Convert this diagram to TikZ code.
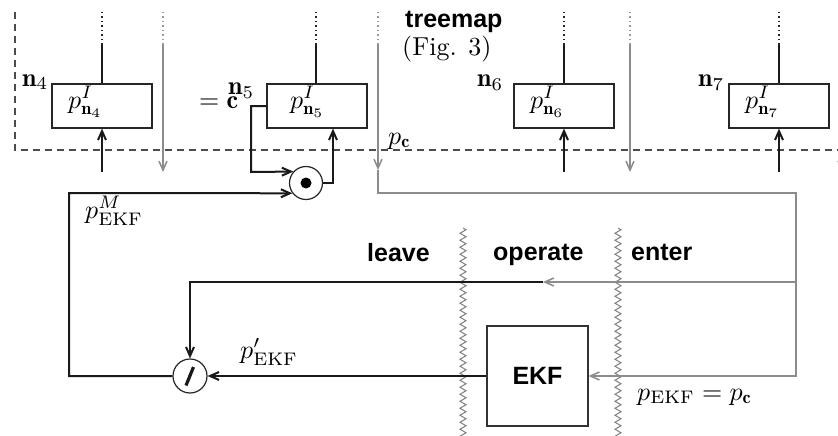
\documentclass[tikz,border=0pt]{standalone}
\usepackage{graphicx}
\usepackage{fontspec}
\newfontfamily\hel{Liberation Sans}
\newcommand\Lb[1]{\scalebox{2.6}{#1}}
\usetikzlibrary{arrows.meta,decorations.pathmorphing}
\begin{document}
\begin{tikzpicture}[x=1pt,y=-1pt,
  lbl/.style={inner sep=0pt},
  sf/.style={font=\hel\bfseries\fontsize{25}{28}\selectfont, inner sep=0pt},
  pbox/.style={draw=black!85, line width=1.2pt, minimum width=100pt, minimum height=44pt, inner sep=0pt},
  blk/.style={draw=black!90, line width=2pt},
  gry/.style={draw=black!45, line width=1.5pt},
  tip/.style={-{Straight Barb[length=9pt,width=8pt]}},
  dots/.style={line width=2pt, dash pattern=on 1.2pt off 3.3pt},
  frame/.style={draw=black!70, line width=1.2pt, dash pattern=on 7pt off 5pt},
  zz/.style={draw=black!50, line width=1pt, decorate, decoration={zigzag,segment length=7pt,amplitude=3pt}},
  ring/.style={circle, draw=black!85, line width=1.2pt, inner sep=0pt, fill=white},
]
\useasboundingbox (0,0) rectangle (838,436);
\clip (0,0) rectangle (838,436);

% dashed treemap frame
\coordinate (f1) at (15,12);
\coordinate (f2) at (15,150);
\coordinate (f3) at (845,150);
\draw[frame] (f1) -- (f2) -- (f3);

% zigzag phase borders
\coordinate (z1a) at (463,228); \coordinate (z1b) at (463,440);
\coordinate (z2a) at (618,228); \coordinate (z2b) at (618,440);
\draw[zz] (z1a) -- (z1b);
\draw[zz] (z2a) -- (z2b);

% boxes
\node[pbox] (b4) at (102,106) {};
\node[pbox] (b5) at (317,106) {};
\node[pbox] (b6) at (564,106) {};
\node[pbox] (b7) at (779,106) {};
\node[lbl, anchor=base west] (l4) at (68,108) {\Lb{$p^I_{\mathbf{n}_4}$}};
\node[lbl, anchor=base west] (l5) at (290,108) {\Lb{$p^I_{\mathbf{n}_5}$}};
\node[lbl, anchor=base west] (l6) at (530,108) {\Lb{$p^I_{\mathbf{n}_6}$}};
\node[lbl, anchor=base west] (l7) at (745,108) {\Lb{$p^I_{\mathbf{n}_7}$}};

% lines above boxes
\foreach \i/\x in {4/102,5/316,6/564,7/779}{
  \coordinate (t\i) at (\x,12);
  \coordinate (m\i) at (\x,45);
  \draw[dots, black!85] (t\i) -- (m\i);
  \draw[blk] (m\i) -- (m\i |- b\i.north);
}
% arrows into boxes from below
\foreach \i/\x in {4/102,6/564,7/779}{
  \coordinate (u\i) at (\x,172);
  \draw[blk,tip] (u\i) -- (u\i |- b\i.south);
}

% grey downward arrows
\foreach \i/\x in {a/163,b/630,c/842}{
  \coordinate (gt\i) at (\x,12);
  \coordinate (gm\i) at (\x,45);
  \coordinate (gb\i) at (\x,172);
  \draw[dots, black!40] (gt\i) -- (gm\i);
  \draw[gry,tip] (gm\i) -- (gb\i);
}

% circles
\node[ring, minimum size=33pt] (cd) at (306,183) {};
\fill[black] (cd.center) circle (5.5);
\node[ring, minimum size=34pt] (sl) at (190,376) {};
\draw[line width=3.2pt, black!90] (186,385.5) -- (193.5,367);

% EKF box
\node[draw=black!80, line width=1.2pt, minimum width=101pt, minimum height=100pt, sf] (ekf) at (537.5,376) {EKF};

% n5 loop
\coordinate (k1) at (251,106);
\coordinate (k2) at (251,172);
\draw[blk,tip] (b5.west) -- (k1) -- (k2) -- (cd.138);
\coordinate (k5) at (333,183);
\draw[blk,tip] (cd.east) -- (k5) -- (k5 |- b5.south);

% big left loop
\coordinate (lc1) at (69,376);
\coordinate (lc2) at (69,193);
\draw[blk,tip] (sl.west) -- (lc1) -- (lc2) -- (cd.217);

% grey path from p_c
\coordinate (pt) at (378,12);
\coordinate (pm) at (378,45);
\coordinate (pa) at (378,170);
\coordinate (pc1) at (378,193);
\coordinate (pc2) at (796,193);
\coordinate (pc3) at (796,376);
\draw[dots, black!40] (pt) -- (pm);
\draw[gry,tip] (pm) -- (pa);
\draw[gry,tip] (pa) -- (pc1) -- (pc2) -- (pc3) -- (ekf.east);

% upper branch
\coordinate (g1) at (796,282);
\coordinate (gm) at (543,282);
\coordinate (bc) at (190,282);
\draw[gry,tip] (g1) -- (gm);
\draw[blk,tip] (gm) -- (bc) -- (sl.north);

% EKF to division
\draw[blk,tip] (ekf.west) -- (sl.east);

% labels
\node[lbl, anchor=base west] (n4) at (22,86) {\Lb{$\mathbf{n}_4$}};
\node[lbl, anchor=base west] (n5) at (228,95) {\Lb{$\mathbf{n}_5$}};
\node[lbl, anchor=base west] (eqc) at (199,108) {\Lb{$=\mathbf{c}$}};
\node[lbl, anchor=base west] (n6) at (477,87) {\Lb{$\mathbf{n}_6$}};
\node[lbl, anchor=base west] (n7) at (698,87) {\Lb{$\mathbf{n}_7$}};
\node[sf, anchor=base west] (tm) at (405,28) {treemap};
\node[lbl, anchor=base west] (fig) at (402,56) {\Lb{(Fig. 3)}};
\node[lbl, anchor=base west] (pcl) at (388,144) {\Lb{$p_{\mathbf{c}}$}};
\node[lbl, anchor=base west] (pml) at (85,218) {\Lb{$p^M_{\mathrm{EKF}}$}};
\node[lbl, anchor=base west] (ppl) at (240,358) {\Lb{$p'_{\mathrm{EKF}}$}};
\node[lbl, anchor=base west] (pel) at (637,400) {\Lb{$p_{\mathrm{EKF}}=p_{\mathbf{c}}$}};
\node[sf, anchor=base west] (lv) at (367,261) {leave};
\node[sf, anchor=base west] (op) at (493,260) {operate};
\node[sf, anchor=base west] (en) at (631,260) {enter};
\end{tikzpicture}
\end{document}
